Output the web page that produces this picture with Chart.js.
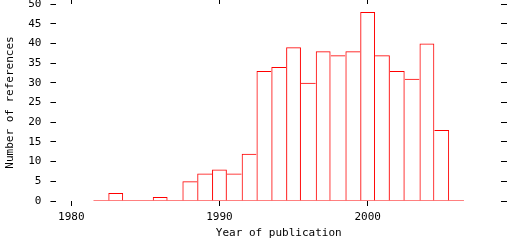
<!DOCTYPE html>
<html>
<head>
<meta charset="utf-8">
<script src="https://cdn.jsdelivr.net/npm/chart.js@4/dist/chart.umd.min.js"></script>
<style>
  body { margin: 0; background: #fff; }
  canvas { display: block; }
</style>
</head>
<body>
<canvas id="hist" width="512" height="240"></canvas>
<script>
// publications per year
const years = [1982,1983,1984,1985,1986,1987,1988,1989,1990,1991,1992,1993,1994,1995,1996,1997,1998,1999,2000,2001,2002,2003,2004,2005,2006];
const counts = [0,2,0,0,1,0,5,7,8,7,12,33,34,39,30,38,37,38,48,37,33,31,40,18,0];
const xTicks = [1980, 1990, 2000];
const yTicks = [0,5,10,15,20,25,30,35,40,45,50];

const red = '#ff0000';
Chart.defaults.font.family = 'DejaVu Sans Mono';
Chart.defaults.font.size = 11;
Chart.defaults.color = '#000';

// each shared edge is drawn once, by the taller bar
function edges(ctx) {
  const i = ctx.dataIndex, v = counts[i];
  const prev = i > 0 ? counts[i-1] : 0;
  const next = i < counts.length - 1 ? counts[i+1] : 0;
  return {top: 1, left: v >= prev ? 1 : 0, right: v > next ? 1 : 0, bottom: 0};
}

const setTicks = list => scale => { scale.ticks = list.map(v => ({value: v})); };
const tickGrid = len => ({drawOnChartArea: false, drawTicks: true, tickLength: len, color: '#000', lineWidth: 1, offset: false});
const noPad = s => { s.paddingTop = 0; s.paddingBottom = 0; s.paddingLeft = 0; s.paddingRight = 0; };

new Chart(document.getElementById('hist'), {
  type: 'bar',
  data: {
    datasets: [{
      data: years.map((y, i) => ({x: y, y: counts[i]})),
      backgroundColor: 'rgba(0,0,0,0)',
      borderColor: red,
      borderWidth: edges,
      inflateAmount: 0,
      categoryPercentage: 1,
      barPercentage: 1
    }, {
      type: 'line',
      data: [{x: years[0] - 0.5, y: 0}, {x: years[years.length-1] + 0.5, y: 0}],
      borderColor: red,
      borderWidth: 1,
      pointRadius: 0
    }]
  },
  options: {
    responsive: false,
    animation: false,
    devicePixelRatio: 1,
    layout: {padding: {left: 0, right: 5, top: 0, bottom: 0}},
    plugins: {legend: {display: false}, tooltip: {enabled: false}},
    scales: {
      x: {
        type: 'linear', position: 'bottom', min: 1979, max: 2009, offset: false,
        afterBuildTicks: setTicks(xTicks),
        afterFit: s => { noPad(s); s.height = 39; },
        border: {display: false},
        grid: tickGrid(5),
        ticks: {padding: 5, maxRotation: 0, autoSkip: false, callback: v => String(v)},
        title: {display: true, text: 'Year of publication', padding: {top: 3, bottom: 0}}
      },
      x2: {
        type: 'linear', position: 'top', min: 1979, max: 2009, offset: false,
        afterBuildTicks: setTicks(xTicks),
        afterFit: s => { noPad(s); s.height = 4; },
        border: {display: false},
        grid: tickGrid(4),
        ticks: {display: false}
      },
      y: {
        type: 'linear', position: 'left', min: 0, max: 50,
        afterBuildTicks: setTicks(yTicks),
        afterFit: noPad,
        border: {display: false},
        grid: tickGrid(6),
        ticks: {padding: 9, autoSkip: false, callback: v => String(v)},
        title: {display: true, text: 'Number of references', padding: {top: 4, bottom: 2}}
      },
      y2: {
        type: 'linear', position: 'right', min: 0, max: 50,
        afterBuildTicks: setTicks(yTicks),
        afterFit: noPad,
        border: {display: false},
        grid: tickGrid(6),
        ticks: {display: false}
      }
    }
  }
});
</script>
</body>
</html>
